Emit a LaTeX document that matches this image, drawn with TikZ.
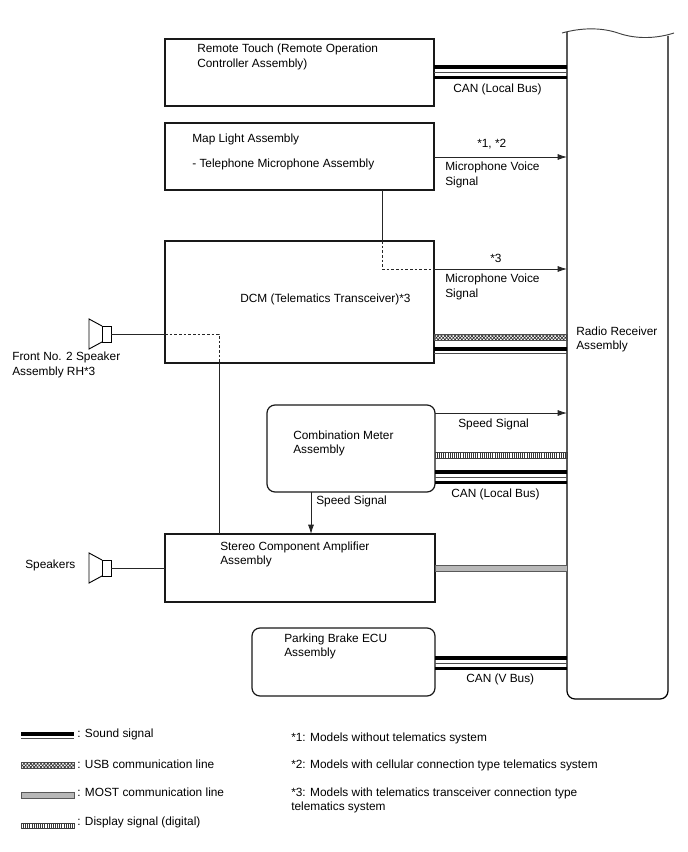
\documentclass[tikz,border=0pt]{standalone}
\usepackage{fontspec}
\setmainfont{Liberation Sans}
\usepackage{xcolor}
\usetikzlibrary{arrows.meta, positioning, patterns.meta}

\tikzset{
	unit box/.style={draw, line width=0.9pt, black!90, outer sep=0pt, inner sep=0pt, anchor=north west},
	round box/.style={unit box, rounded corners=6pt},
	lbl/.style={anchor=west, inner sep=0pt, align=left, yshift=-0.7pt, font=\fontsize{8.9}{11}\selectfont},
	sigline/.style={line width=0.6pt, black!85},
	sigarrow/.style={sigline, -{Latex[length=7pt,width=4.5pt]}},
	sigdash/.style={sigline, dash pattern=on 2pt off 1.5pt},
	thickbus/.style={line width=2.3pt},
	thinbus/.style={line width=0.6pt, black!70},
	usbbus/.style={draw=black!70, line width=0.4pt, pattern={Hatch[distance=1.8pt,angle=45,line width=0.5pt,xshift=0.2pt]}, pattern color=black!80},
	mostbus/.style={draw=black!65, line width=0.7pt, fill=black!28},
	dispbus/.style={draw=black!75, line width=0.5pt, pattern={Lines[distance=1.6pt,angle=90,line width=0.6pt]}, pattern color=black!80},
	speaker box/.style={draw, line width=0.7pt, outer sep=0pt, minimum width=6.75pt, minimum height=12pt}
}

\begin{document}
\begin{tikzpicture}[x=0.75pt, y=-0.75pt]
	\useasboundingbox (0,0) rectangle (688,852);
	% Boxes
	\node[unit box, minimum width=201.75pt, minimum height=50.25pt] (remote) at (165,39) {};
	\node[unit box, minimum width=201.75pt, minimum height=50.25pt] (mapl) at (165,123) {};
	\node[unit box, minimum width=201.75pt, minimum height=91.5pt] (dcm) at (165,241) {};
	\node[round box, minimum width=126pt, minimum height=65.25pt] (combo) at (267,405) {};
	\node[unit box, minimum width=202.5pt, minimum height=51pt] (stereo) at (165,534) {};
	\node[round box, minimum width=137.25pt, minimum height=51pt] (parking) at (252,628) {};
	% Radio receiver, open at the top
	\node[outer sep=0pt, inner sep=0pt, anchor=north west, minimum width=75.75pt, minimum height=500.25pt] (radio) at (567,32) {};
	\draw[line width=0.9pt, rounded corners=6pt] (radio.north west) -- (radio.south west) -- (radio.south east) -- (radio.north east |- 0,36);
	\draw[line width=0.7pt, black!75] (562,33) .. controls (580,28) and (600,27) .. (618,33) .. controls (632,38) and (652,40) .. (674,33);
	% Speakers
	\node[speaker box] (spkfront) at (106.5,334) {};
	\node[speaker box] (spkrear) at (106.5,568) {};
	\draw[line width=0.7pt] (spkfront.north west) -- ++(-13,-7) -- ++(0,30) -- (spkfront.south west);
	\draw[line width=0.7pt] (spkrear.north west) -- ++(-13,-7) -- ++(0,30) -- (spkrear.south west);
	% Box texts
	\node[lbl] (remotetxt) at (197,56) {Remote Touch (Remote Operation\\Controller Assembly)};
	\node[lbl] (maptxt) at (192,138) {Map Light Assembly};
	\node[lbl] (mictxt) at (192,163) {- Telephone Microphone Assembly};
	\node[lbl] (dcmtxt) at (240,298) {DCM (Telematics Transceiver)*3};
	\node[lbl] (combotxt) at (293,442.5) {Combination Meter\\Assembly};
	\node[lbl] (stereotxt) at (220,553.5) {Stereo Component Amplifier\\Assembly};
	\node[lbl] (parkingtxt) at (284,645.5) {Parking Brake ECU\\Assembly};
	\node[lbl] (radiotxt) at (576,338.5) {Radio Receiver\\Assembly};
	\node[lbl] (fronttxt) at (12,364) {Front No. 2 Speaker\\Assembly RH*3};
	\node[lbl] (spktxt) at (25,564) {Speakers};
	% CAN buses
	\foreach \src/\y in {remote/67, combo/472, parking/658} {
		\draw[thickbus] (\src.east |- 0,\y) -- (radio.west |- 0,\y);
		\draw[thinbus] (\src.east |- 0,\y+5.5) -- (radio.west |- 0,\y+5.5);
		\draw[thickbus] (\src.east |- 0,\y+10.5) -- (radio.west |- 0,\y+10.5);
	}
	% Other buses
	\draw[thickbus] (dcm.east |- 0,349) -- (radio.west |- 0,349);
	\draw[thinbus] (dcm.east |- 0,353.5) -- (radio.west |- 0,353.5);
	\draw[usbbus] (dcm.east |- 0,334) rectangle (radio.west |- 0,340);
	\draw[dispbus] (combo.east |- 0,452) rectangle (radio.west |- 0,458);
	\draw[mostbus] (stereo.east |- 0,565.5) rectangle (radio.west |- 0,571);
	% Signals
	\coordinate (micbend) at (382,269);
	\coordinate (spkbend) at (219,334);
	\draw[sigarrow] (mapl.east |- 0,157) -- (radio.west |- 0,157);
	\draw[sigline] (mapl.south -| micbend) -- (dcm.north -| micbend);
	\draw[sigdash] (dcm.north -| micbend) -- (micbend) -- (dcm.east |- micbend);
	\draw[sigarrow] (dcm.east |- micbend) -- (radio.west |- micbend);
	\draw[sigarrow] (combo.east |- 0,413) -- (radio.west |- 0,413);
	\draw[sigarrow] (combo.south -| 311,0) -- (stereo.north -| 311,0);
	\draw[sigline] (spkfront.east) -- (dcm.west |- spkfront);
	\draw[sigdash] (dcm.west |- spkfront) -- (spkbend) -- (dcm.south -| spkbend);
	\draw[sigline] (dcm.south -| spkbend) -- (stereo.north -| spkbend);
	\draw[sigline] (spkrear.east) -- (stereo.west |- spkrear);
	% Connector texts
	\node[lbl] (canremote) at (453,88) {CAN (Local Bus)};
	\node[lbl] (noteone) at (477,143) {*1, *2};
	\node[lbl] (micone) at (445,174) {Microphone Voice\\Signal};
	\node[lbl] (notetwo) at (490,257) {*3};
	\node[lbl] (mictwo) at (445,286) {Microphone Voice\\Signal};
	\node[lbl] (speedone) at (458,423) {Speed Signal};
	\node[lbl] (cancombo) at (451,493) {CAN (Local Bus)};
	\node[lbl] (speedtwo) at (316,500) {Speed Signal};
	\node[lbl] (canpark) at (466,678) {CAN (V Bus)};
	% Legend
	\coordinate (keysound) at (21,734);
	\coordinate (keysoundend) at (74,734);
	\draw[thickbus] (keysound) -- (keysoundend);
	\draw[thinbus] ([yshift=-3pt]keysound) -- ([yshift=-3pt]keysoundend);
	\draw[usbbus] (21,762) rectangle (74,768);
	\draw[mostbus] (21,792) rectangle (74,798);
	\draw[dispbus] (21,823) rectangle (74,828);
	\node[lbl] (keyone) at (77,733) {: Sound signal};
	\node[lbl] (keytwo) at (77,763) {: USB communication line};
	\node[lbl] (keythree) at (77,791) {: MOST communication line};
	\node[lbl] (keyfour) at (77,821) {: Display signal (digital)};
	% Notes
	\node[lbl] (noteA) at (291,737) {*1: Models without telematics system};
	\node[lbl] (noteB) at (291,764) {*2: Models with cellular connection type telematics system};
	\node[lbl] (noteC) at (291,799.5) {*3: Models with telematics transceiver connection type\\telematics system};
\end{tikzpicture}
\end{document}
